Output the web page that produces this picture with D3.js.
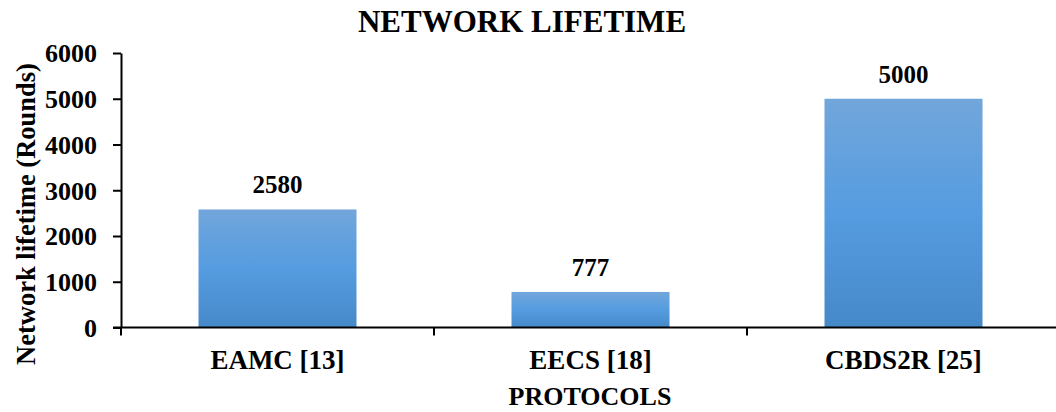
<!DOCTYPE html>
<html>
<head>
<meta charset="utf-8">
<script src="https://cdn.jsdelivr.net/npm/d3@7"></script>
<style>
  html, body { margin: 0; padding: 0; background: #fff; }
  svg { display: block; }
  text { font-family: "Liberation Serif", "Times New Roman", serif; font-weight: bold; fill: #000; }
</style>
</head>
<body>
<svg id="chart" width="1056" height="412"></svg>
<script>
// Network lifetime per protocol
const protocols = ["EAMC [13]", "EECS [18]", "CBDS2R [25]"];
const lifetimes = [2580, 777, 5000];
const yTicks = [0, 1000, 2000, 3000, 4000, 5000, 6000];

const svg = d3.select("#chart");
const W = 1056, H = 412;
const margin = { left: 121, right: -4, top: 53, bottom: 84.5 };

const x = d3.scaleBand()
  .domain(protocols)
  .range([margin.left, W - margin.right])
  .paddingInner(0)
  .paddingOuter(0);

const y = d3.scaleLinear()
  .domain([0, 6000])
  .range([H - margin.bottom, margin.top]);

// vertical gradient for the bars
const defs = svg.append("defs");
const grad = defs.append("linearGradient")
  .attr("id", "barGrad").attr("x1", 0).attr("y1", 0).attr("x2", 0).attr("y2", 1);
grad.append("stop").attr("offset", "0%").attr("stop-color", "#72a6db");
grad.append("stop").attr("offset", "50%").attr("stop-color", "#559ce0");
grad.append("stop").attr("offset", "100%").attr("stop-color", "#4689c9");

const barW = 158;

svg.append("g").selectAll("rect")
  .data(protocols)
  .join("rect")
  .attr("x", d => x(d) + (x.bandwidth() - barW) / 2)
  .attr("width", barW)
  .attr("y", (d, i) => y(lifetimes[i]))
  .attr("height", (d, i) => y(0) - y(lifetimes[i]))
  .attr("fill", "url(#barGrad)");

// value labels
svg.append("g").selectAll("text")
  .data(protocols)
  .join("text")
  .attr("x", d => x(d) + x.bandwidth() / 2)
  .attr("y", (d, i) => y(lifetimes[i]) - 16)
  .attr("text-anchor", "middle")
  .style("font-size", "25px")
  .text((d, i) => lifetimes[i]);

// y axis
const yAxis = svg.append("g")
  .attr("transform", `translate(${margin.left},0)`)
  .call(d3.axisLeft(y).tickValues(yTicks).tickFormat(d3.format("d"))
    .tickSize(8).tickSizeOuter(0).tickPadding(16));
yAxis.select(".domain").attr("stroke", "#000").attr("stroke-width", 2);
yAxis.selectAll(".tick line").attr("stroke", "#000").attr("stroke-width", 2);
yAxis.selectAll(".tick text")
  .style("font-size", "26px")
  .style("font-family", "'Liberation Serif', serif")
  .style("font-weight", "bold")
  .attr("dy", "0.34em");

// x axis with ticks at category boundaries
const xAxisG = svg.append("g").attr("transform", `translate(0,${y(0)})`);
xAxisG.append("line")
  .attr("x1", margin.left - 8).attr("x2", W)
  .attr("stroke", "#000").attr("stroke-width", 2);
const bounds = protocols.map(d => x(d)).concat([x.range()[1]]);
xAxisG.selectAll("line.bound")
  .data(bounds)
  .join("line")
  .attr("class", "bound")
  .attr("x1", d => d).attr("x2", d => d)
  .attr("y1", 0).attr("y2", 8)
  .attr("stroke", "#000").attr("stroke-width", 2);
xAxisG.selectAll("text")
  .data(protocols)
  .join("text")
  .attr("x", d => x(d) + x.bandwidth() / 2)
  .attr("y", 41.5)
  .attr("text-anchor", "middle")
  .style("font-size", "27px")
  .text(d => d);

// title and axis titles
svg.append("text")
  .attr("x", 522).attr("y", 31.5)
  .attr("text-anchor", "middle")
  .style("font-size", "31px")
  .text("NETWORK LIFETIME");

svg.append("text")
  .attr("x", 590).attr("y", 405)
  .attr("text-anchor", "middle")
  .style("font-size", "26px")
  .text("PROTOCOLS");

svg.append("text")
  .attr("transform", `translate(35,214) rotate(-90)`)
  .attr("text-anchor", "middle")
  .style("font-size", "26.5px")
  .text("Network lifetime (Rounds)");
</script>
</body>
</html>
